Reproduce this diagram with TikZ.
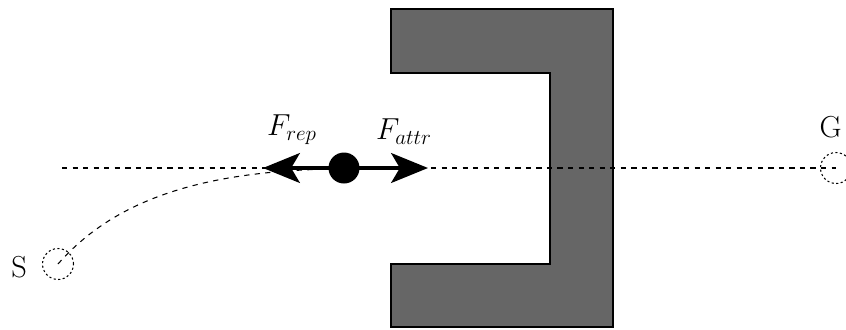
\documentclass[tikz,border=0pt]{standalone}
\usepackage{tikz}
\usetikzlibrary{arrows.meta, positioning}
\definecolor{obstaclegray}{RGB}{102,102,102}

\begin{document}
\begin{tikzpicture}[x=0.02cm, y=-0.02cm, font=\LARGE]

    % Define styles for the nodes
    \tikzstyle{endpoint} = [
        circle, draw=black, line width=0.6pt,
        dash pattern=on 1.2pt off 1.4pt, minimum size=0.62cm, inner sep=0pt
    ]
    \tikzstyle{robot} = [
        circle, fill=black, minimum size=0.62cm, inner sep=0pt
    ]
    \tikzstyle{force} = [
        line width=2pt, -{Stealth[length=21pt, width=17pt, inset=5pt]}
    ]
    \tikzstyle{path} = [dashed, line width=0.6pt]

    \useasboundingbox (0,0) rectangle (846,329);

    % Obstacle
    \draw [fill=obstaclegray, line width=0.6pt]
        (391,9) -- (613,9) -- (613,327) -- (391,327) -- (391,264)
        -- (550,264) -- (550,73) -- (391,73) -- cycle;

    % Nodes
    \node (start) [endpoint] at (58,264) {};
    \node (goal) [endpoint] at (836,168) {};
    \node (slabel) [left=0.18cm of start, yshift=-2pt] {S};
    \node (glabel) [above=0.15cm of goal, xshift=-3pt] {G};
    \coordinate (lstart) at (62,168);
    \coordinate (reptip) at (263,168);
    \coordinate (attrtip) at (428,168);

    % Paths
    \draw [path] (lstart) -- (goal.center);
    \draw [path] (start.center) .. controls (110,205) and (190,172) .. (330,169);

    % Forces
    \draw [force] (344,168) -- (reptip);
    \draw [force] (344,168) -- (attrtip);
    \node (robot) [robot] at (344,168) {};
    \node (frep) [above=0.35cm of reptip, xshift=0.58cm] {$F_{rep}$};
    \node (fattr) [above=0.35cm of attrtip, xshift=-0.48cm] {$F_{attr}$};

\end{tikzpicture}
\end{document}
